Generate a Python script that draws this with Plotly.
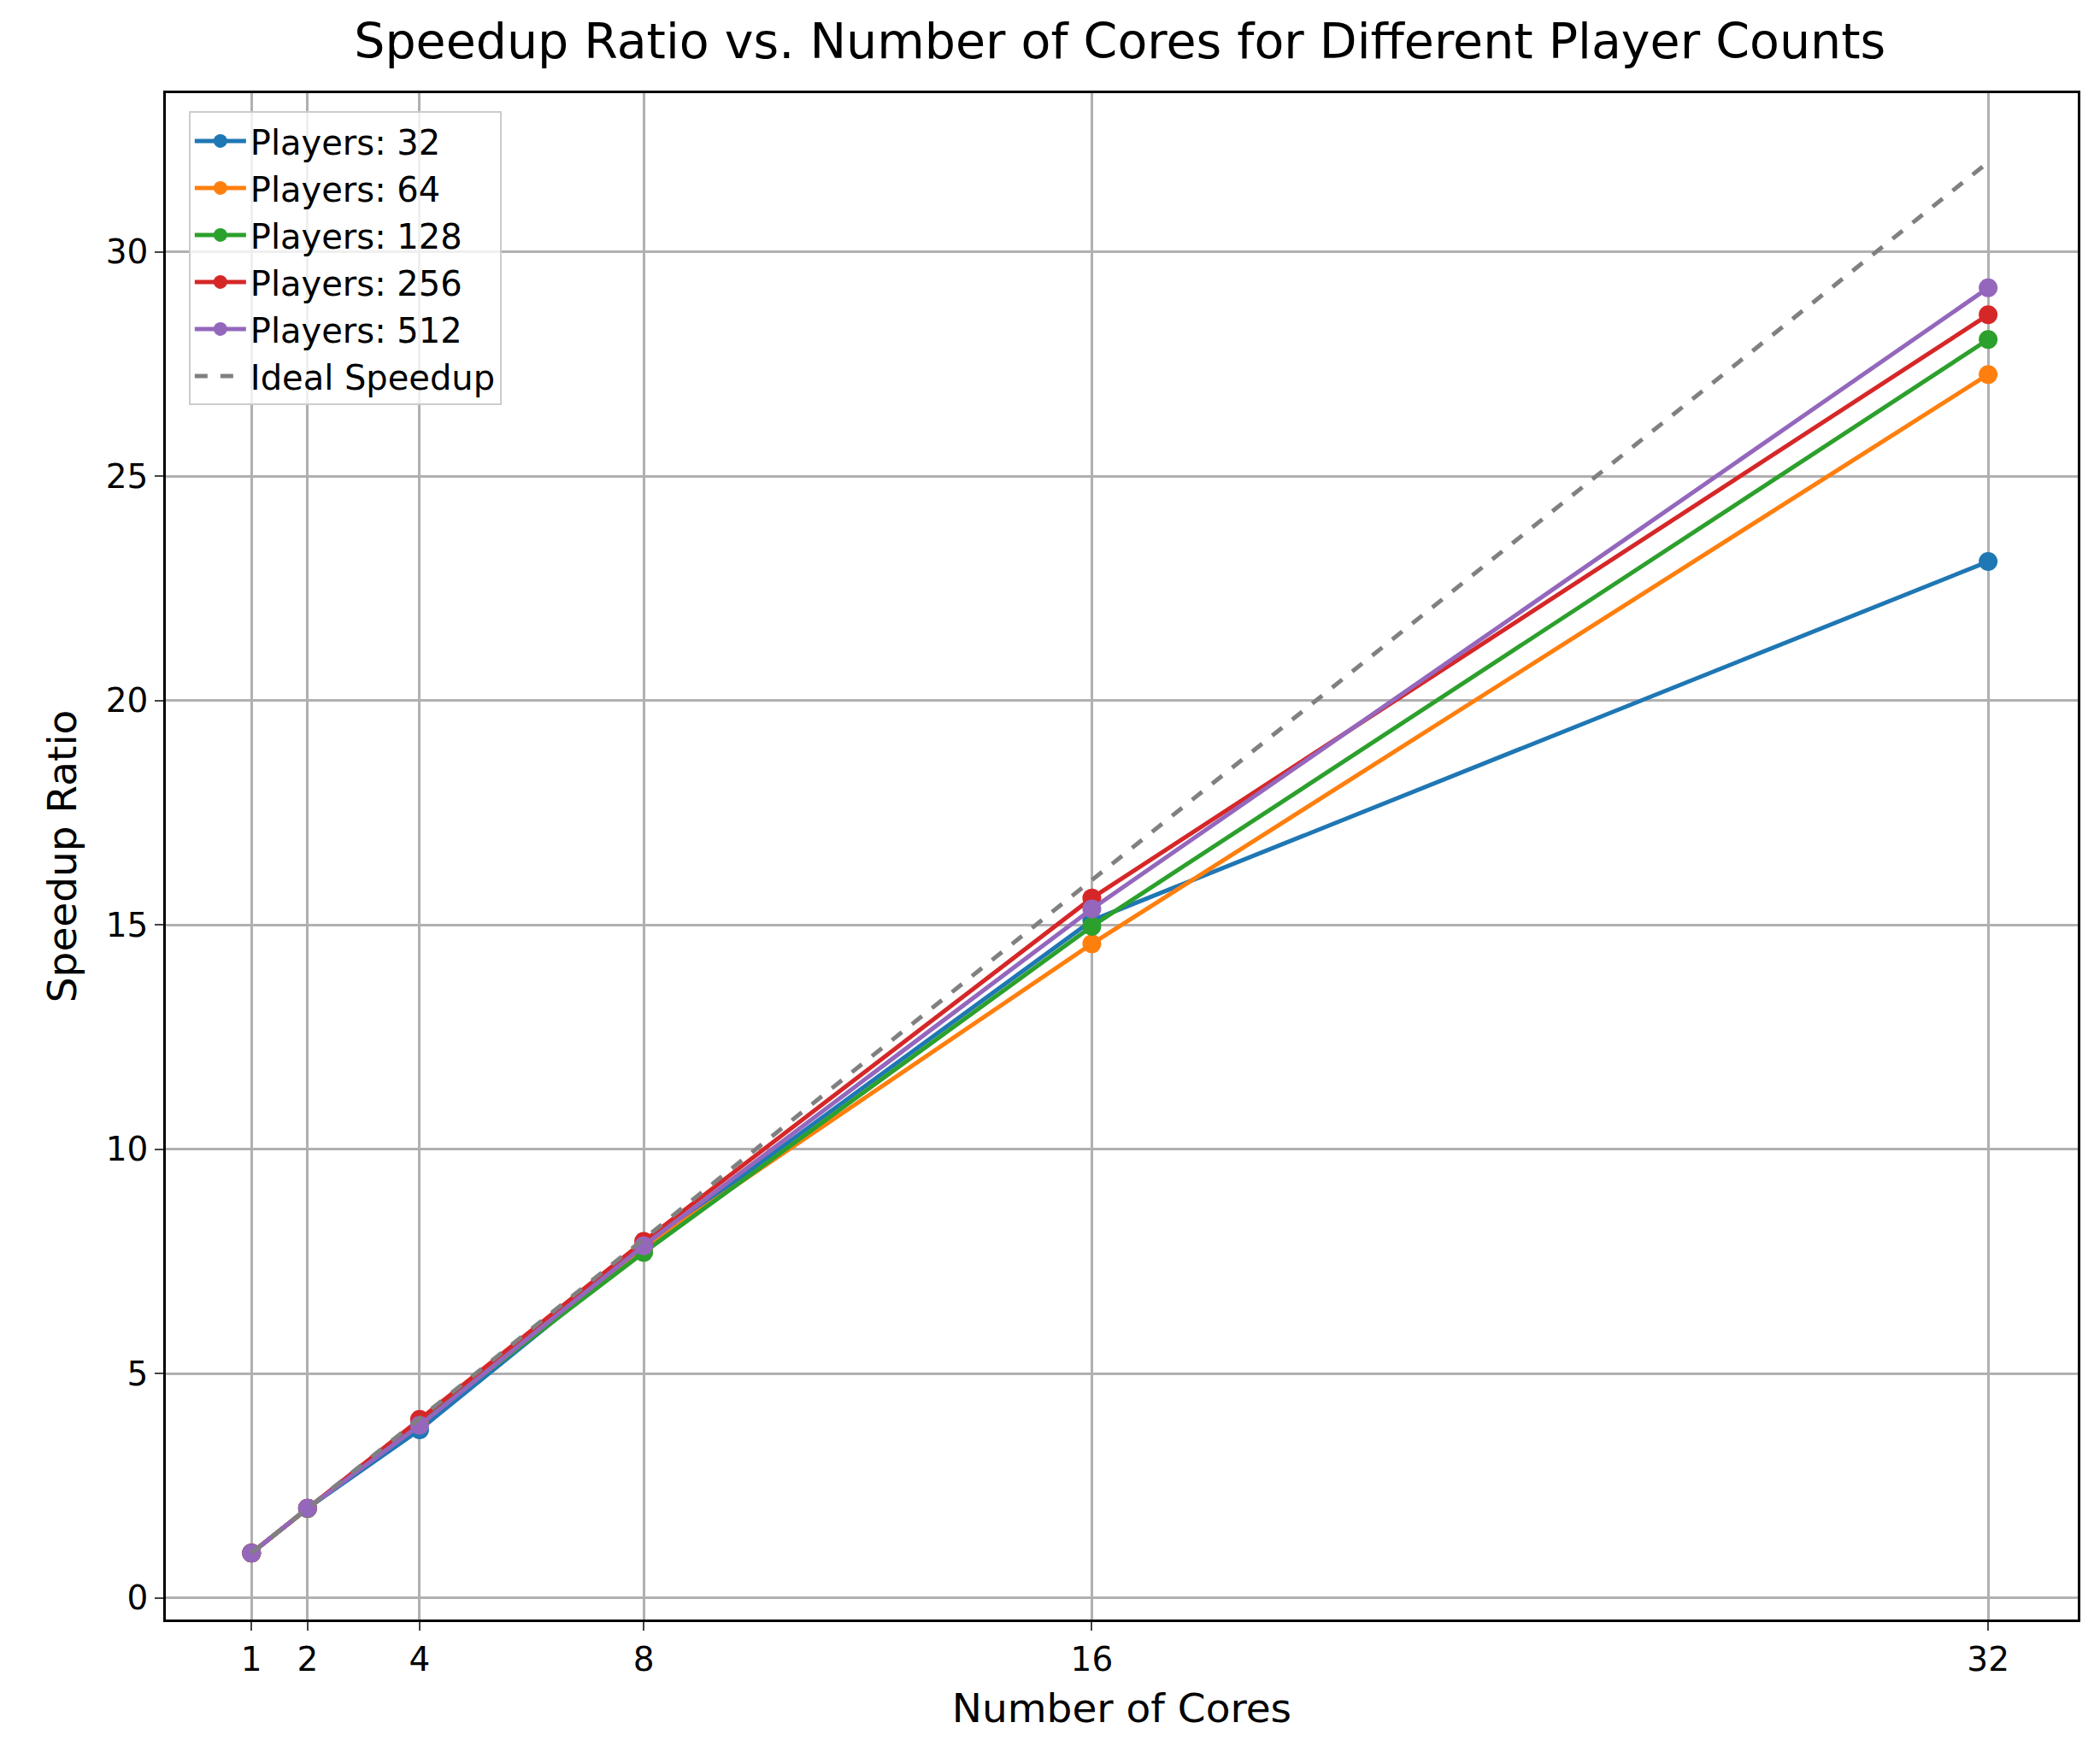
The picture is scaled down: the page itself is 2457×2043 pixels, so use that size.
import plotly.graph_objects as go

cores = [1, 2, 4, 8, 16, 32]
series_names = ["Players: 32", "Players: 64", "Players: 128", "Players: 256", "Players: 512"]
speedups = [
    [1.0, 2.0, 3.75, 7.8, 15.1, 23.1],
    [1.0, 2.0, 3.9, 7.8, 14.58, 27.27],
    [1.0, 1.99, 3.9, 7.7, 14.97, 28.05],
    [1.0, 2.0, 3.98, 7.95, 15.6, 28.6],
    [1.0, 2.0, 3.85, 7.85, 15.36, 29.2],
]
colors = ["#1f77b4", "#ff7f0e", "#2ca02c", "#d62728", "#9467bd"]
ideal = [1, 2, 4, 8, 16, 32]

fig = go.Figure()
for name, ys, c in zip(series_names, speedups, colors):
    fig.add_trace(go.Scatter(x=cores, y=ys, name=name, mode="lines+markers",
                             line=dict(color=c, width=5), marker=dict(size=22, color=c)))
fig.add_trace(go.Scatter(x=cores, y=ideal, name="Ideal Speedup", mode="lines",
                         line=dict(color="gray", width=5, dash="dash")))

fig.update_layout(
    width=2457, height=2043, plot_bgcolor="white", paper_bgcolor="white",
    font=dict(family="DejaVu Sans", size=39, color="black"),
    margin=dict(l=186, r=34, t=101, b=156),
    title=dict(text="Speedup Ratio vs. Number of Cores for Different Player Counts",
               x=0.53, xanchor="center", y=0.99, yanchor="top", font=dict(size=57)),
    xaxis=dict(title=dict(text="Number of Cores", font=dict(size=47), standoff=20), range=[-0.53, 33.6],
               tickvals=cores, ticktext=[str(c) for c in cores], showgrid=True, gridcolor="#b0b0b0",
               gridwidth=2.5, showline=True, linecolor="black", linewidth=2.5, mirror=True,
               ticks="outside", ticklen=10, tickwidth=2, zeroline=False),
    yaxis=dict(title=dict(text="Speedup Ratio", font=dict(size=47), standoff=20), range=[-0.48, 33.54],
               tickvals=[0, 5, 10, 15, 20, 25, 30], showgrid=True, gridcolor="#b0b0b0",
               gridwidth=2.5, showline=True, linecolor="black", linewidth=2.5, mirror=True,
               ticks="outside", ticklen=10, tickwidth=2, zeroline=False),
    legend=dict(x=0.012, y=0.988, xanchor="left", yanchor="top", bgcolor="rgba(255,255,255,0.8)",
                bordercolor="#cccccc", borderwidth=2, font=dict(size=40), itemwidth=60,
                tracegroupgap=4),
)
fig.write_html("out.html")
